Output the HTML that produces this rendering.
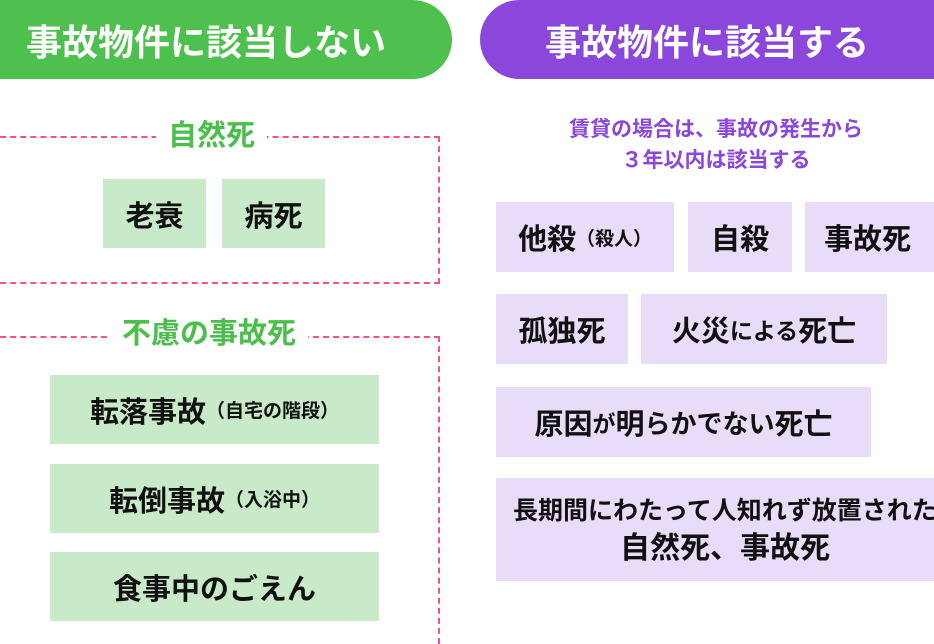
<!DOCTYPE html>
<html><head><meta charset="utf-8"><style>
*{margin:0;padding:0;box-sizing:border-box}
html,body{width:934px;height:644px;overflow:hidden}
body{position:relative;background:#fff;font-family:"Liberation Sans","Noto Sans CJK JP",sans-serif;font-weight:bold}
.a{position:absolute}
.pill{position:absolute;top:0;height:79px;border-radius:40px;color:#fff;font-size:36px;display:flex;align-items:center;justify-content:center;white-space:nowrap}
.g,.p{color:#111;font-size:29px;display:flex;align-items:center;justify-content:center;position:absolute;white-space:nowrap}
.g{background:#c9eac8}
.p{background:#e9dcf8}
.s{font-size:19px}
.t{position:absolute;color:#4bbf4b;font-size:29px;background:#fff;padding:0 12px;line-height:34px}
.d{position:absolute;border:2.5px dashed #f4508b;border-left:none}
</style></head><body>
<div class="pill" style="left:-40px;width:492px;background:#4ec04e;padding-left:0">事故物件に該当しない</div>
<div class="pill" style="left:480px;width:454px;background:#8b46dc;border-radius:40px 0 0 40px;padding-right:0">事故物件に該当する</div>

<div class="d" style="left:-10px;top:136px;width:450px;height:148px"></div>
<div class="t" style="left:156px;top:119px">自然死</div>
<div class="g" style="left:103px;top:179px;width:103px;height:69px">老衰</div>
<div class="g" style="left:222px;top:179px;width:103px;height:69px">病死</div>

<div class="d" style="left:-10px;top:336px;width:450px;height:308px;border-bottom:none"></div>
<div class="t" style="left:110px;top:317px">不慮の事故死</div>
<div class="g" style="left:50px;top:375px;width:329px;height:69px">転落事故<span class="s">（自宅の階段）</span></div>
<div class="g" style="left:50px;top:464px;width:329px;height:69px">転倒事故<span class="s">（入浴中）</span></div>
<div class="g" style="left:50px;top:552px;width:329px;height:69px">食事中のごえん</div>

<div class="a" style="left:496px;top:114px;width:440px;text-align:center;color:#8b46dc;font-size:21px;line-height:31px">賃貸の場合は、事故の発生から<br>３年以内は該当する</div>
<div class="p" style="left:496px;top:202px;width:178px;height:70px">他殺<span class="s">（殺人）</span></div>
<div class="p" style="left:688px;top:202px;width:104px;height:70px">自殺</div>
<div class="p" style="left:805px;top:202px;width:129px;height:70px;justify-content:flex-start;padding-left:19px">事故死</div>
<div class="p" style="left:496px;top:294px;width:132px;height:70px">孤独死</div>
<div class="p" style="left:641px;top:294px;width:246px;height:70px">火災<span style="font-size:23px">による</span>死亡</div>
<div class="p" style="left:496px;top:387px;width:375px;height:70px">原因<span style="font-size:23px">が</span>明<span style="font-size:26px">らかでない</span>死亡</div>
<div class="p" style="left:496px;top:478px;width:438px;height:103px;flex-direction:column;align-items:flex-start;padding-left:17px;line-height:38px;overflow:hidden"><span style="font-size:25px">長期間にわたって人知れず放置された</span><span style="padding-left:107px;font-size:30px">自然死、事故死</span></div>
</body></html>
